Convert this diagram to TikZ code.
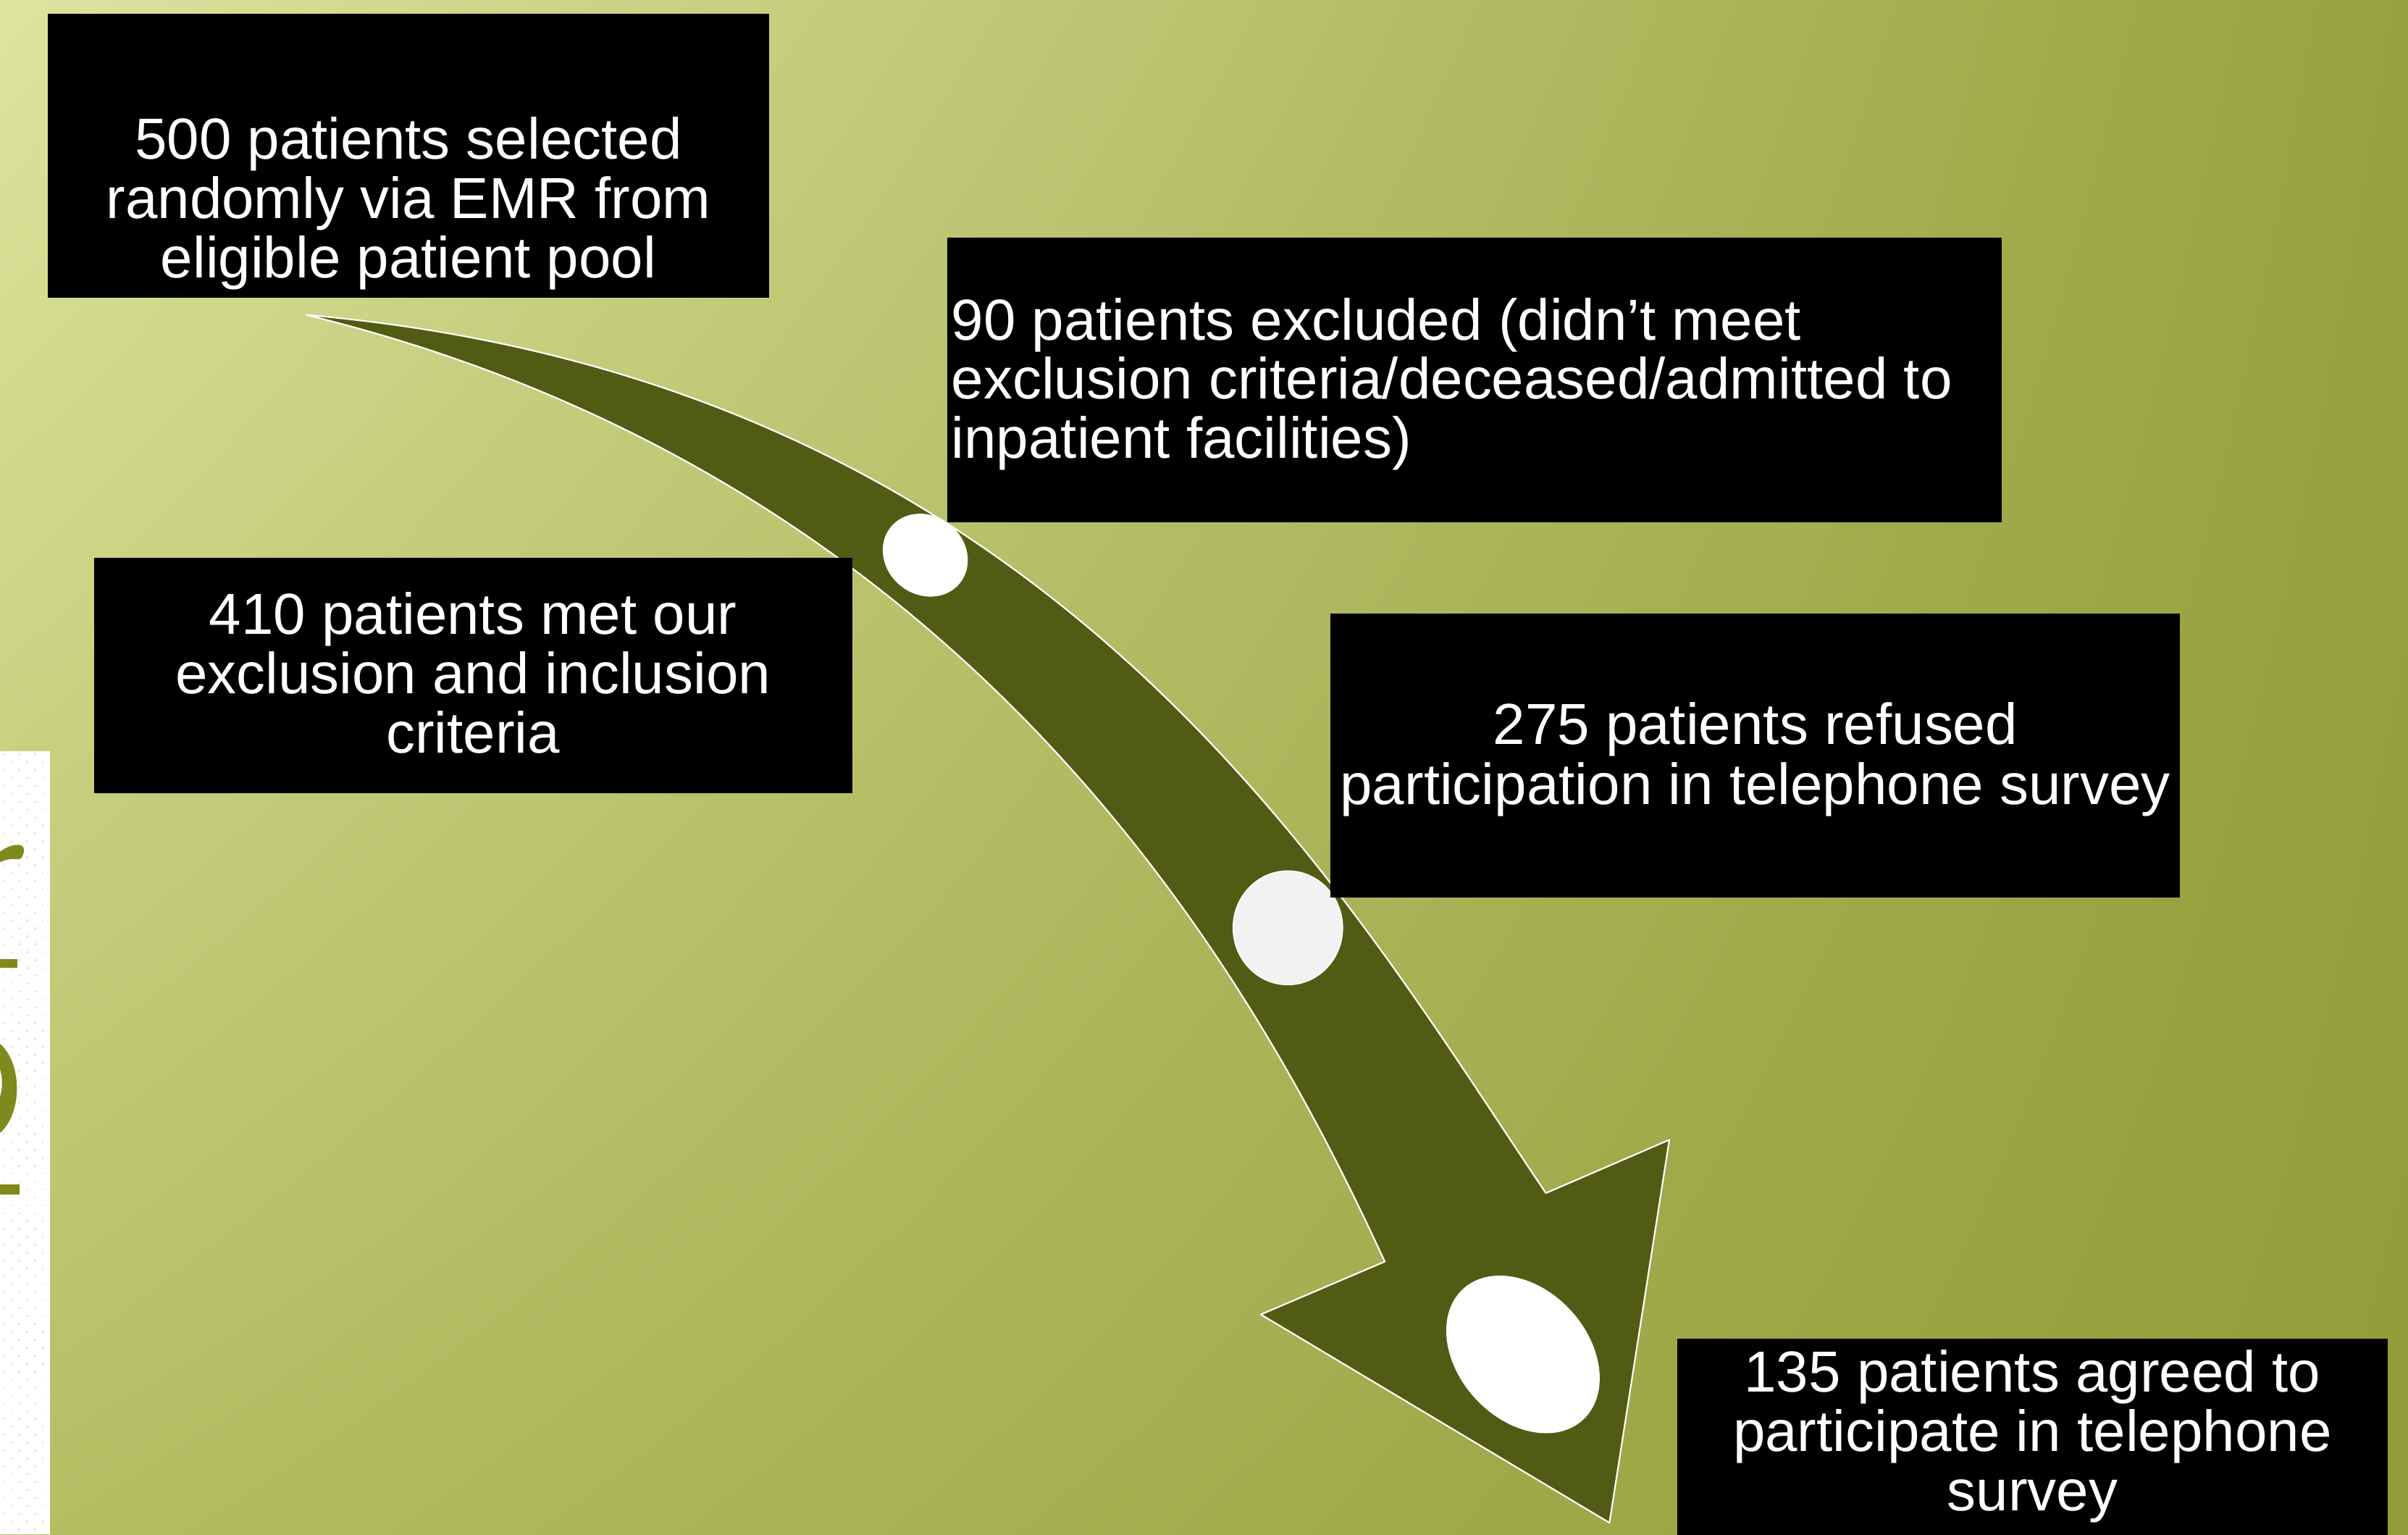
\documentclass[tikz,border=0pt]{standalone}
\usepackage{fontspec}
\setmainfont{Liberation Sans}
\usetikzlibrary{shadings}
\definecolor{bgUL}{RGB}{220,228,158}
\definecolor{bgUR}{RGB}{152,162,62}
\definecolor{bgLL}{RGB}{182,190,100}
\definecolor{bgLR}{RGB}{146,156,56}
\definecolor{arrowolive}{RGB}{82,91,20}
\definecolor{glypholive}{RGB}{127,137,30}
\definecolor{dotgray}{RGB}{228,228,228}
\definecolor{discgray}{RGB}{242,242,242}
\begin{document}
\begin{tikzpicture}[x=1pt,y=-1pt,
  panel/.style={fill=black, draw=none, inner sep=0pt, outer sep=0pt},
  boxtext/.style={text=white, inner sep=0pt, outer sep=0pt,
    font=\fontsize{37.7}{38.6}\selectfont},
  arrowbody/.style={fill=arrowolive, draw=white, line width=1pt, line join=round},
  disc/.style={fill=white, draw=none}]

\useasboundingbox (0,0) rectangle (1568,999);
\clip (0,0) rectangle (1568,999);

% background
\shade[upper left=bgUL, upper right=bgUR, lower left=bgLL, lower right=bgLR]
  (0,0) rectangle (1568,999);

% white strip on the left with cut-off title letters
\begin{scope}
  \clip (0,488.8) rectangle (32.6,999);
  \fill[white] (0,488.8) rectangle (32.6,999);
  \foreach \j in {0,...,98} {
    \pgfmathsetmacro{\dx}{mod(\j,2)*5.1}
    \foreach \i in {0,1,2}
      \fill[dotgray] (1.8+\dx+\i*10.2,490.5+\j*5.15) rectangle ++(1.2,1.2);
  }
  \fill[glypholive] (-1,555) .. controls (3,552.5) and (7,549.6) .. (12.5,550)
    .. controls (15.5,550.3) and (16.2,553) .. (15.3,555.5)
    .. controls (14.6,558) and (13.5,559.6) .. (11.5,559.4)
    .. controls (8,558.8) and (3,559.5) .. (-1,561.8) -- cycle;
  \fill[glypholive] (0,624.2) rectangle (11.4,630);
  \fill[glypholive, even odd rule] (-10,708.5) ellipse [x radius=21pt, y radius=33pt]
    (-10,705) ellipse [x radius=11.3pt, y radius=19.3pt];
  \fill[glypholive] (0,771) rectangle (12.6,777.5);
\end{scope}

% curved arrow
\coordinate (tail) at (199.5,205);
\coordinate (barbR) at (1087,742);
\coordinate (innerR) at (1006.6,776.7);
\coordinate (tip) at (1048,991.3);
\coordinate (barbL) at (821,855.7);
\coordinate (innerL) at (901.7,821.3);
\path[arrowbody]
  (tail) .. controls (687.5,247.6) and (872.4,577.7) .. (innerR)
  -- (barbR) -- (tip) -- (barbL) -- (innerL)
  .. controls (818.1,639.6) and (636.7,311.6) .. (tail)
  -- cycle;

% discs on the arrow
\fill[disc, rotate around={-39:(602.5,361.4)}] (602.5,361.4)
  ellipse [x radius=29pt, y radius=25.6pt];
\filldraw[fill=discgray, draw=white, line width=0.8pt] (838.6,604)
  ellipse [x radius=35.6pt, y radius=37pt];
\fill[disc, rotate around={-47.5:(991.7,881.7)}] (991.7,881.7)
  ellipse [x radius=57.8pt, y radius=42.3pt];

% boxes
\node[panel, minimum width=470pt, minimum height=184.6pt] (b1) at (266,101.3) {};
\node[panel, minimum width=686.3pt, minimum height=185.5pt] (b2) at (960.15,247.25) {};
\node[panel, minimum width=493.5pt, minimum height=153.4pt] (b3) at (308.25,439.7) {};
\node[panel, minimum width=553.2pt, minimum height=185pt] (b4) at (1142.9,492) {};
\node[panel, minimum width=462.8pt, minimum height=138.5pt] (b5) at (1323.4,940.75) {};

% texts
\node[boxtext, anchor=base] (t1a) at (266,103.7) {500 patients selected};
\node[boxtext, anchor=base] (t1b) at (266,142.3) {randomly via EMR from};
\node[boxtext, anchor=base] (t1c) at (266,180.8) {eligible patient pool};

\node[boxtext, anchor=base west] (t2a) at (619.5,221.2) {90 patients excluded (didn’t meet};
\node[boxtext, anchor=base west] (t2b) at (619.5,259.8) {exclusion criteria/deceased/admitted to};
\node[boxtext, anchor=base west] (t2c) at (619.5,298.4) {inpatient facilities)};

\node[boxtext, anchor=base] (t3a) at (308,412.7) {410 patients met our};
\node[boxtext, anchor=base] (t3b) at (308,451.5) {exclusion and inclusion};
\node[boxtext, anchor=base] (t3c) at (308,490.3) {criteria};

\node[boxtext, anchor=base] (t4a) at (1143,484.5) {275 patients refused};
\node[boxtext, anchor=base] (t4b) at (1143,523.5) {participation in telephone survey};

\node[boxtext, anchor=base] (t5a) at (1323.4,906.2) {135 patients agreed to};
\node[boxtext, anchor=base] (t5b) at (1323.4,944.8) {participate in telephone};
\node[boxtext, anchor=base] (t5c) at (1323.4,983.4) {survey};
\end{tikzpicture}
\end{document}
